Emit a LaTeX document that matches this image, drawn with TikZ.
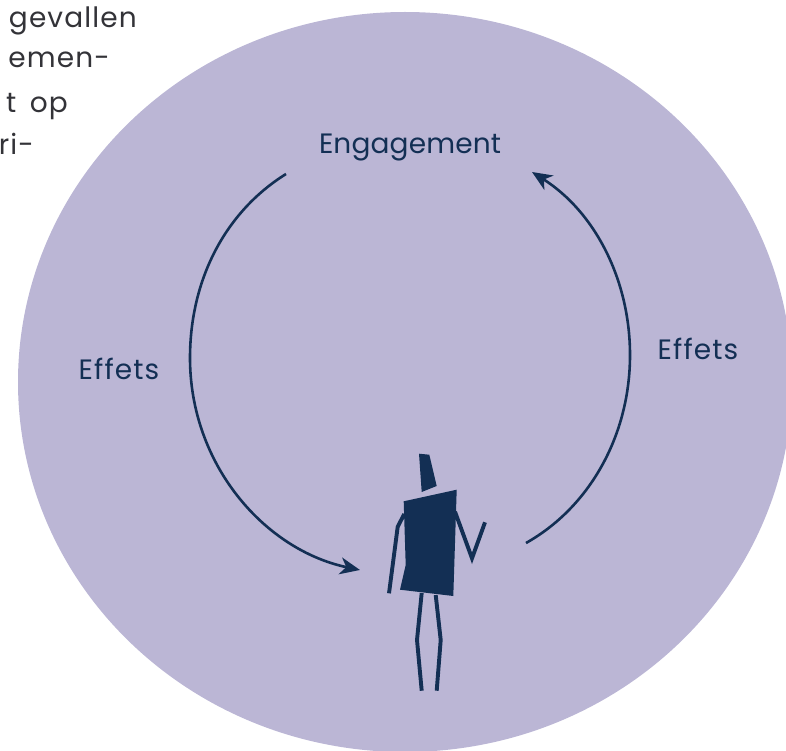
\documentclass[tikz,border=0pt]{standalone}
\usepackage{fontspec}
\setmainfont{Poppins}
\usetikzlibrary{arrows.meta}
\definecolor{lila}{HTML}{BBB6D5}
\definecolor{navy}{HTML}{132F54}
\definecolor{ink}{HTML}{333338}
\tikzset{
  x=1pt,y=-1pt,
  label text/.style={text=navy,font=\addfontfeatures{LetterSpace=0.5}\fontsize{28}{30}\selectfont,inner sep=0pt,anchor=center},
  effect text/.style={text=navy,font=\addfontfeatures{LetterSpace=4}\fontsize{28}{30}\selectfont,inner sep=0pt,anchor=center},
  body text/.style={text=ink,font=\addfontfeatures{LetterSpace=4}\fontsize{28}{30}\selectfont,inner sep=0pt,anchor=base east},
  cycle line/.style={draw=navy,line width=2.6pt,-{Stealth[length=20pt,width=17pt,inset=6pt]}},
  limb/.style={draw=navy,line width=3.9pt,line join=miter},
  solid part/.style={fill=navy,draw=none}
}
\begin{document}
\begin{tikzpicture}
\useasboundingbox (0,0) rectangle (786,751);
\begin{scope}
\clip (0,0) rectangle (786,751);
\fill[lila] (405,382) ellipse [x radius=387, y radius=370];
\end{scope}
\node[body text] (t1) at (137,28) {e\hspace{2pt} gevallen};
\node[body text] (t2) at (110,68) {emen-};
\node[body text] (t3) at (68,113) {t\hspace{5pt} op};
\node[body text] (t4) at (34,155) {ri-};
\node[label text] (eng) at (410,148) {Engagement};
\node[effect text] (effl) at (119,369) {Effets};
\node[effect text] (effr) at (698,349) {Effets};
\coordinate (la) at (286,174);
\coordinate (lb) at (360,570);
\coordinate (ra) at (526,543);
\coordinate (rb) at (532,172);
\draw[cycle line] (la) .. controls (225,212) and (190,280) .. (190,358) .. controls (190,465) and (265,550) .. (lb);
\draw[cycle line] (ra) .. controls (590,507) and (630,435) .. (630,355) .. controls (630,280) and (595,212) .. (rb);
\fill[solid part] (419,453.7) -- (429.3,454.7) -- (436.7,486) -- (421.7,492) -- cycle;
\fill[solid part] (403.7,501.3) -- (456.7,489.7) -- (453.3,596) -- (400,589.7) -- (405.7,565) -- cycle;
\draw[limb] (404.3,514) -- (397.7,526.7) -- (389,593.3);
\draw[limb] (455,511.7) -- (472,558.3) -- (485,522.3);
\draw[limb] (421.7,593) -- (417,640) -- (421.7,690.7);
\draw[limb] (435.7,595) -- (440.7,640) -- (436.7,690.7);
\end{tikzpicture}
\end{document}
